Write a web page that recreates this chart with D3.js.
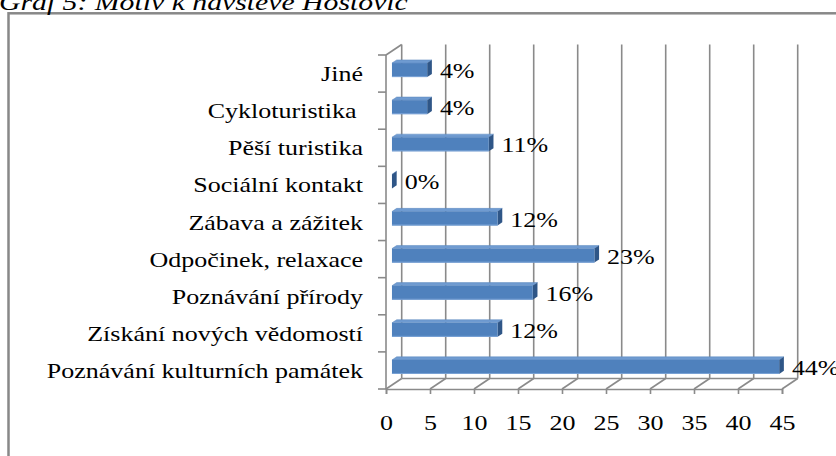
<!DOCTYPE html>
<html><head><meta charset="utf-8">
<script src="https://cdn.jsdelivr.net/npm/d3@7/dist/d3.min.js"></script>
<style>
html,body{margin:0;padding:0;background:#fff;}
svg{display:block;}
text{font-family:"Liberation Serif","Times New Roman",serif;fill:#000;}
</style></head>
<body>
<svg id="chart" width="836" height="456"></svg>
<script>
const title = "Graf 5: Motiv k návštěvě Hostovic";
const categories = ["Jiné","Cykloturistika ","Pěší turistika","Sociální kontakt","Zábava a zážitek","Odpočinek, relaxace","Poznávání přírody","Získání nových vědomostí","Poznávání kulturních památek"];
const values = [4,4,11,0,12,23,16,12,44];
const valueLabels = ["4%","4%","11%","0%","12%","23%","16%","12%","44%"];
const xTicks = [0,5,10,15,20,25,30,35,40,45];

const svg = d3.select("#chart");
const SX = 1.3; // horizontal stretch of the original picture
const FS = 20;

// geometry
const x = d3.scaleLinear().domain([0,45]).range([386,782]);
const y = d3.scaleBand().domain(categories).range([55,389]);
const wallDX = 15.7, wallDY = -10.5;   // depth of the 3D walls
const barD0 = 0.38, barD1 = 0.68;      // bar depth positions (fraction of wall depth)
const faceH = 14;

// outer frame
svg.append("rect").attr("x",8.5).attr("y",13.3).attr("width",900).attr("height",500)
  .attr("fill","none").attr("stroke","#888").attr("stroke-width",2.5);

// title
svg.append("text").attr("transform",`translate(-1,9.5) scale(1.24,1)`)
  .attr("font-size",24).attr("font-style","italic").text(title);

const grid = svg.append("g").attr("stroke","#8a8a8a").attr("stroke-width",1.6).attr("fill","none");
const yTop = y.range()[0], yBot = y.range()[1];

// back wall gridlines
xTicks.forEach(t => {
  grid.append("line").attr("x1",x(t)+wallDX).attr("x2",x(t)+wallDX)
    .attr("y1",yTop+wallDY).attr("y2",yBot+wallDY);
  // floor diagonals
  grid.append("line").attr("x1",x(t)).attr("y1",yBot).attr("x2",x(t)+wallDX).attr("y2",yBot+wallDY);
});
// floor back line
grid.append("line").attr("x1",x(0)+wallDX).attr("x2",x(45)+wallDX).attr("y1",yBot+wallDY).attr("y2",yBot+wallDY);
// left wall front line + top diagonal
grid.append("line").attr("x1",x(0)).attr("x2",x(0)).attr("y1",yTop).attr("y2",yBot);
grid.append("line").attr("x1",x(0)).attr("y1",yTop).attr("x2",x(0)+wallDX).attr("y2",yTop+wallDY);
// left wall ticks at band boundaries
categories.concat([null]).forEach((c,i) => {
  const yy = c === null ? yBot : y(c);
  grid.append("line").attr("x1",x(0)-8).attr("x2",x(0)).attr("y1",yy).attr("y2",yy);
});

// front x axis
const xAxis = d3.axisBottom(x).tickValues(xTicks).tickSize(5).tickSizeOuter(5).tickPadding(0);
const gx = svg.append("g").attr("transform",`translate(0,${yBot})`).call(xAxis);
gx.selectAll("path,line").attr("stroke","#8a8a8a").attr("stroke-width",1.6);
gx.selectAll("text").attr("font-size",FS).attr("font-family","Liberation Serif")
  .attr("fill","#000").attr("y",41).attr("dy",0)
  .attr("transform",`scale(${SX},1)`);

// category labels
svg.append("g").selectAll("text").data(categories).join("text")
  .attr("transform",c => `translate(363,${y(c)+y.bandwidth()/2+7.5}) scale(${SX},1)`)
  .attr("text-anchor","end").attr("font-size",FS).attr("xml:space","preserve")
  .style("white-space","pre").text(c => c);

// bars
const bars = svg.append("g");
categories.forEach((c,i) => {
  const v = values[i];
  const cy = y(c)+y.bandwidth()/2;
  const fx0 = x(0)+barD0*wallDX, fx1 = x(v)+barD0*wallDX;
  const fy0 = cy + barD0*wallDY - faceH/2 + 0.5, fy1 = fy0 + faceH;
  const ddx = (barD1-barD0)*wallDX, ddy = (barD1-barD0)*wallDY;
  // top face
  bars.append("path").attr("d",`M${fx0},${fy0}L${fx1},${fy0}L${fx1+ddx},${fy0+ddy}L${fx0+ddx},${fy0+ddy}Z`)
    .attr("fill","#6f9bd1").attr("stroke","#5a86bd").attr("stroke-width",0.5);
  // side face
  bars.append("path").attr("d",`M${fx1},${fy0}L${fx1+ddx},${fy0+ddy}L${fx1+ddx},${fy1+ddy}L${fx1},${fy1}Z`)
    .attr("fill","#2f5687");
  // front face
  if (v > 0) {
    bars.append("rect").attr("x",fx0).attr("y",fy0).attr("width",fx1-fx0).attr("height",faceH)
      .attr("fill","#4f81bd");
    bars.append("line").attr("x1",fx0).attr("x2",fx1).attr("y1",fy1-0.5).attr("y2",fy1-0.5)
      .attr("stroke","#7aa3d6").attr("stroke-width",1);
  }
  // value label
  svg.append("text").attr("transform",`translate(${fx1+ddx+8},${cy+4.5}) scale(${SX},1)`)
    .attr("font-size",FS).text(valueLabels[i]);
});
</script>
</body></html>
